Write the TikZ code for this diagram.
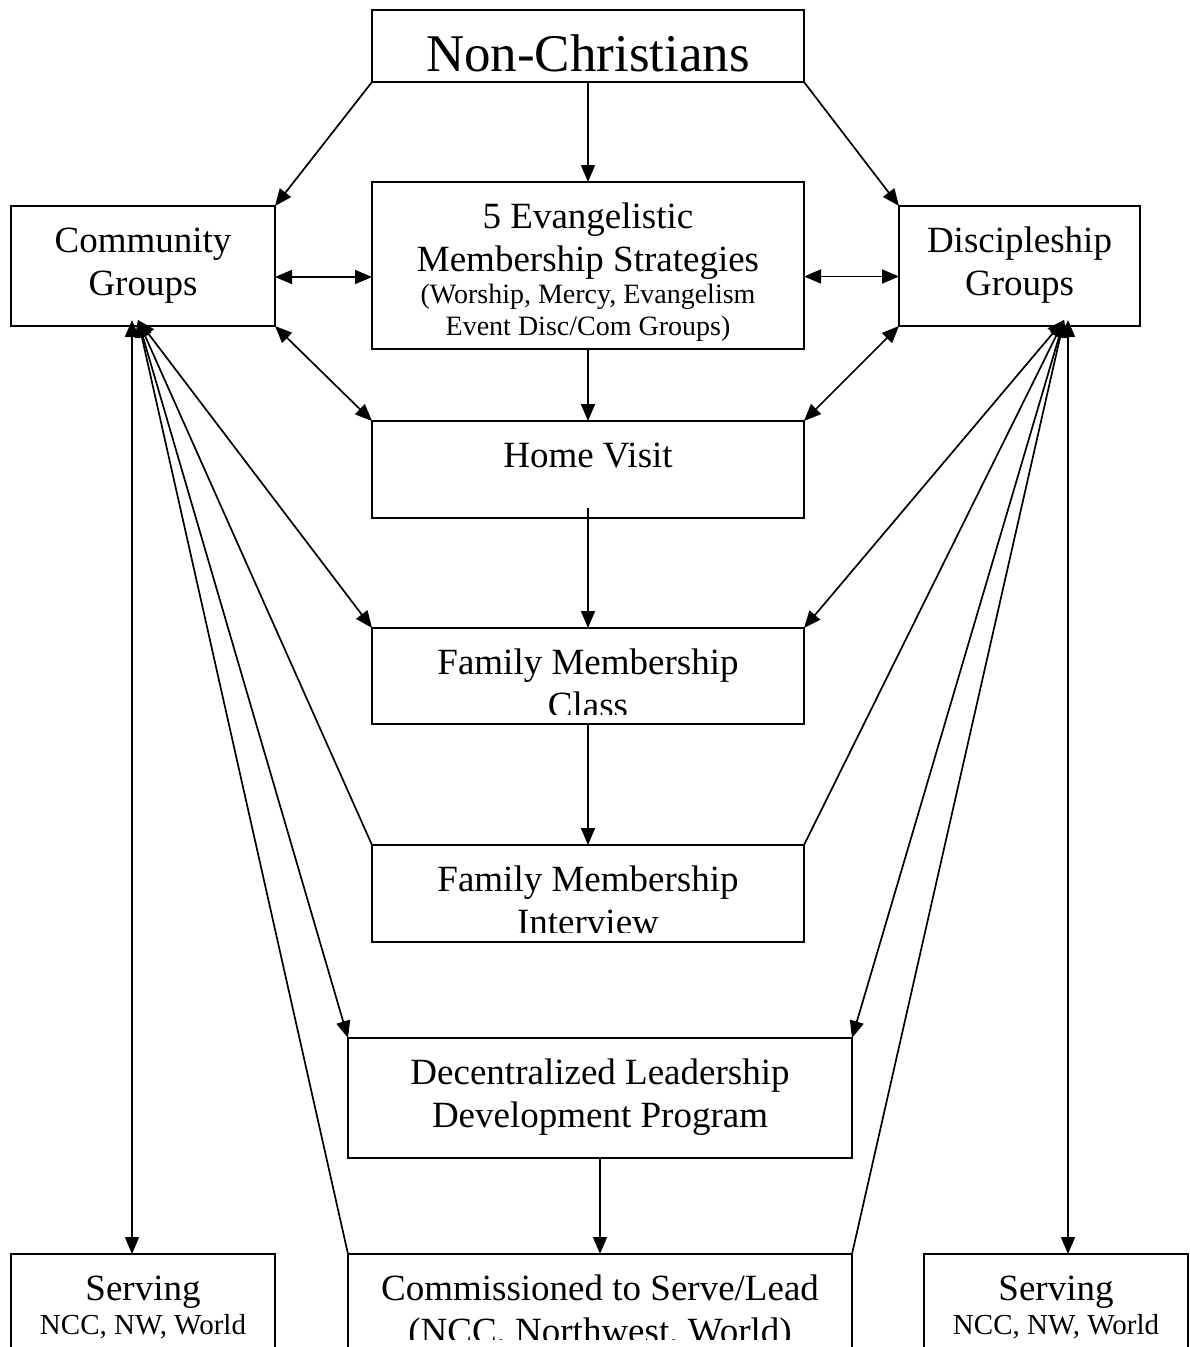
\documentclass[tikz,border=0pt]{standalone}
\usepackage{fontspec}
\setmainfont{Liberation Serif}
\usetikzlibrary{arrows.meta}
\begin{document}
\begin{tikzpicture}[x=1pt,y=-1pt,
  box/.style={draw, line width=1.6pt, inner sep=0pt, outer sep=0pt},
  txt/.style={anchor=base, inner sep=0pt, font=\fontsize{37}{42}\selectfont},
  big/.style={anchor=base, inner sep=0pt, font=\fontsize{53}{60}\selectfont},
  sml/.style={anchor=base, inner sep=0pt, font=\fontsize{28}{32}\selectfont},
  smlb/.style={anchor=base, inner sep=0pt, font=\fontsize{29}{33}\selectfont},
  con/.style={line width=1.7pt},
  arr/.style={con, -{Triangle[length=17pt,width=14pt]}},
  dbl/.style={con, {Triangle[length=17pt,width=14pt]}-{Triangle[length=17pt,width=14pt]}},
  back/.style={con, {Triangle[length=17pt,width=14pt]}-}
]
\useasboundingbox (0,0) rectangle (1190,1347);
\clip (0,0) rectangle (1190,1347);

% boxes
\node[box, minimum width=432pt, minimum height=72pt]  (nc)  at (588,46) {};
\node[box, minimum width=432pt, minimum height=167pt] (ev)  at (588,265.5) {};
\node[box, minimum width=264pt, minimum height=120pt] (cg)  at (143,266) {};
\node[box, minimum width=241pt, minimum height=120pt] (dg)  at (1019.5,266) {};
\node[box, minimum width=432pt, minimum height=97pt]  (hv)  at (588,469.5) {};
\node[box, minimum width=432pt, minimum height=96pt]  (fmc) at (588,676) {};
\node[box, minimum width=432pt, minimum height=97pt]  (fmi) at (588,893.5) {};
\node[box, minimum width=504pt, minimum height=120pt] (dl)  at (600,1098) {};
\node[box, minimum width=504pt, minimum height=106pt] (cm)  at (600,1307) {};
\node[box, minimum width=264pt, minimum height=106pt] (sl)  at (143,1307) {};
\node[box, minimum width=264pt, minimum height=106pt] (sr)  at (1056,1307) {};

% texts
\node[big] (nct) at (588,71) {Non-Christians};
\node[txt] (cg1) at (143,252) {Community};
\node[txt] (cg2) at (143,295) {Groups};
\node[txt] (dg1) at (1019.5,252) {Discipleship};
\node[txt] (dg2) at (1019.5,295) {Groups};
\node[txt] (ev1) at (588,228) {5 Evangelistic};
\node[txt] (ev2) at (588,271) {Membership Strategies};
\node[sml] (ev3) at (588,303) {(Worship, Mercy, Evangelism};
\node[sml] (ev4) at (588,335) {Event Disc/Com Groups)};
\node[txt] (hv1) at (588,467) {Home Visit};
\node[txt] (fmc1) at (588,674) {Family Membership};
\begin{scope}
  \clip (372,628) rectangle (804,714.5);
  \node[txt] (fmc2) at (588,717) {Class};
\end{scope}
\node[txt] (fmi1) at (588,891) {Family Membership};
\begin{scope}
  \clip (372,845) rectangle (804,932.5);
  \node[txt] (fmi2) at (588,934) {Interview};
\end{scope}
\node[txt] (dl1) at (600,1084) {Decentralized Leadership};
\node[txt] (dl2) at (600,1127) {Development Program};
\node[txt] (cm1) at (600,1300) {Commissioned to Serve/Lead};
\begin{scope}
  \clip (348,1254) rectangle (852,1339);
  \node[txt] (cm2) at (600,1343) {(NCC, Northwest, World)};
\end{scope}
\node[txt] (sl1) at (143,1300) {Serving};
\node[smlb] (sl2) at (143,1334) {NCC, NW, World};
\node[txt] (sr1) at (1056,1300) {Serving};
\node[smlb] (sr2) at (1056,1334) {NCC, NW, World};

% connectors
\draw[arr] (nc.south) -- (ev.north);
\draw[arr] (nc.south west) -- (cg.north east);
\draw[arr] (nc.south east) -- (dg.north west);
\draw[dbl] ([yshift=-11pt]cg.east) -- ([yshift=-11pt]cg.east -| ev.west);
\draw[dbl] ([yshift=-11pt]ev.east) -- ([yshift=-11pt]ev.east -| dg.west);
\draw[arr] (ev.south) -- (hv.north);
\draw[dbl] (cg.south east) -- (hv.north west);
\draw[dbl] (dg.south west) -- (hv.north east);
\draw[arr] ([yshift=10pt]hv.south) -- (fmc.north);
\draw[arr] (fmc.south) -- (fmi.north);
\draw[arr] (dl.south) -- (cm.north);

% left fan
\coordinate (cgf) at ([xshift=-5pt,yshift=6pt]cg.south);
\coordinate (cgv) at ([xshift=-11pt,yshift=6pt]cg.south);
\draw[dbl]  (cgf) -- (fmc.north west);
\draw[back] (cgf) -- (fmi.north west);
\draw[dbl]  (cgf) -- (dl.north west);
\draw[back] (cgf) -- (cm.north west);
\draw[dbl]  (cgv) -- (cgv |- sl.north);

% right fan
\coordinate (dgf) at (1064,320);
\coordinate (dgv) at (1068,320);
\draw[dbl]  (dgf) -- (fmc.north east);
\draw[back] (dgf) -- (fmi.north east);
\draw[dbl]  (dgf) -- (dl.north east);
\draw[back] (dgf) -- (cm.north east);
\draw[dbl]  (dgv) -- (dgv |- sr.north);
\end{tikzpicture}
\end{document}
